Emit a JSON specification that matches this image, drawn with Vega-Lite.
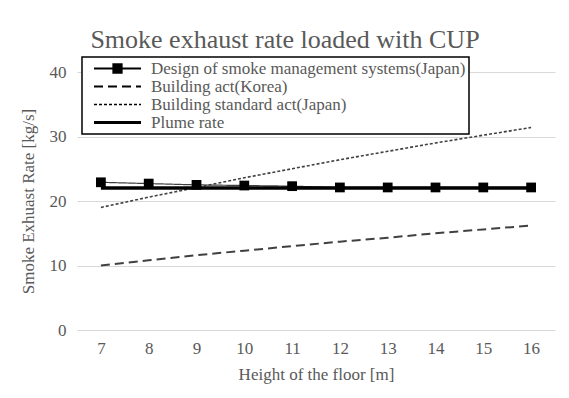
{
  "$schema": "https://vega.github.io/schema/vega-lite/v6.json",
  "width": 478,
  "height": 258,
  "autosize": "none",
  "padding": {"left": 77, "top": 72, "right": 14, "bottom": 68},
  "background": "white",
  "title": {
    "text": "Smoke exhaust rate loaded with CUP",
    "font": "Liberation Serif",
    "fontSize": 26,
    "fontWeight": "normal",
    "color": "#595959",
    "baseline": "alphabetic",
    "offset": -18,
    "dx": -31
  },
  "config": {
    "view": {"stroke": null},
    "font": "Liberation Serif"
  },
  "data": {
    "values": [
      {"h": 7, "series": "Design of smoke management systems(Japan)", "v": 22.9},
      {"h": 8, "series": "Design of smoke management systems(Japan)", "v": 22.7},
      {"h": 9, "series": "Design of smoke management systems(Japan)", "v": 22.5},
      {"h": 10, "series": "Design of smoke management systems(Japan)", "v": 22.4},
      {"h": 11, "series": "Design of smoke management systems(Japan)", "v": 22.3},
      {"h": 12, "series": "Design of smoke management systems(Japan)", "v": 22.1},
      {"h": 13, "series": "Design of smoke management systems(Japan)", "v": 22.1},
      {"h": 14, "series": "Design of smoke management systems(Japan)", "v": 22.1},
      {"h": 15, "series": "Design of smoke management systems(Japan)", "v": 22.1},
      {"h": 16, "series": "Design of smoke management systems(Japan)", "v": 22.1},
      {"h": 7, "series": "Building act(Korea)", "v": 10.0},
      {"h": 8, "series": "Building act(Korea)", "v": 10.8},
      {"h": 9, "series": "Building act(Korea)", "v": 11.6},
      {"h": 10, "series": "Building act(Korea)", "v": 12.3},
      {"h": 11, "series": "Building act(Korea)", "v": 13.0},
      {"h": 12, "series": "Building act(Korea)", "v": 13.7},
      {"h": 13, "series": "Building act(Korea)", "v": 14.3},
      {"h": 14, "series": "Building act(Korea)", "v": 15.0},
      {"h": 15, "series": "Building act(Korea)", "v": 15.6},
      {"h": 16, "series": "Building act(Korea)", "v": 16.2},
      {"h": 7, "series": "Building standard act(Japan)", "v": 19.0},
      {"h": 8, "series": "Building standard act(Japan)", "v": 20.6},
      {"h": 9, "series": "Building standard act(Japan)", "v": 22.1},
      {"h": 10, "series": "Building standard act(Japan)", "v": 23.6},
      {"h": 11, "series": "Building standard act(Japan)", "v": 25.0},
      {"h": 12, "series": "Building standard act(Japan)", "v": 26.4},
      {"h": 13, "series": "Building standard act(Japan)", "v": 27.7},
      {"h": 14, "series": "Building standard act(Japan)", "v": 29.0},
      {"h": 15, "series": "Building standard act(Japan)", "v": 30.2},
      {"h": 16, "series": "Building standard act(Japan)", "v": 31.4},
      {"h": 7, "series": "Plume rate", "v": 22.0},
      {"h": 8, "series": "Plume rate", "v": 22.0},
      {"h": 9, "series": "Plume rate", "v": 22.0},
      {"h": 10, "series": "Plume rate", "v": 22.0},
      {"h": 11, "series": "Plume rate", "v": 22.0},
      {"h": 12, "series": "Plume rate", "v": 22.0},
      {"h": 13, "series": "Plume rate", "v": 22.0},
      {"h": 14, "series": "Plume rate", "v": 22.0},
      {"h": 15, "series": "Plume rate", "v": 22.0},
      {"h": 16, "series": "Plume rate", "v": 22.0}
    ]
  },
  "encoding": {
    "x": {
      "field": "h",
      "type": "ordinal",
      "scale": {"type": "point", "padding": 0.5},
      "axis": {
        "title": "Height of the floor [m]",
        "labelAngle": 0,
        "labelFont": "Liberation Serif",
        "labelFontSize": 17,
        "labelColor": "#595959",
        "labelPadding": 10,
        "titleFont": "Liberation Serif",
        "titleFontSize": 17,
        "titleFontWeight": "normal",
        "titleColor": "#595959",
        "titlePadding": 10,
        "ticks": false,
        "domain": false,
        "grid": false
      }
    },
    "y": {
      "field": "v",
      "type": "quantitative",
      "scale": {"domain": [0, 40], "nice": false},
      "axis": {
        "title": "Smoke Exhuast Rate [kg/s]",
        "values": [0, 10, 20, 30, 40],
        "labelFont": "Liberation Serif",
        "labelFontSize": 17,
        "labelColor": "#595959",
        "labelPadding": 11,
        "titleFont": "Liberation Serif",
        "titleFontSize": 17,
        "titleFontWeight": "normal",
        "titleColor": "#595959",
        "titlePadding": 12,
        "ticks": false,
        "domain": false,
        "grid": true,
        "gridColor": "#d9d9d9",
        "gridWidth": 1.2
      }
    }
  },
  "layer": [
    {
      "mark": {"type": "line", "strokeCap": "butt"},
      "encoding": {
        "strokeDash": {
          "field": "series",
          "type": "nominal",
          "sort": ["Design of smoke management systems(Japan)", "Building act(Korea)", "Building standard act(Japan)", "Plume rate"],
          "scale": {
            "domain": ["Design of smoke management systems(Japan)", "Building act(Korea)", "Building standard act(Japan)", "Plume rate"],
            "range": [[1, 0], [9, 5], [3, 2], [1, 0]]
          },
          "legend": {
            "title": null,
            "orient": "none",
            "legendX": 5,
            "legendY": -15,
            "direction": "vertical",
            "fillColor": "white",
            "strokeColor": "#000000",
            "padding": 3,
            "symbolType": "stroke",
            "symbolSize": 2209,
            "symbolStrokeColor": "#000000",
            "symbolStrokeWidth": 1.5,
            "symbolOffset": 24,
            "labelOffset": 25,
            "labelFont": "Liberation Serif",
            "labelFontSize": 17,
            "labelColor": "#595959",
            "labelLimit": 450,
            "clipHeight": 17,
            "rowPadding": 0,
            "encode": {
              "legend": {
                "update": {"strokeWidth": {"value": 1.5}}
              },
              "symbols": {
                "update": {
                  "size": {"value": 2209},
                  "stroke": {"value": "#000000"},
                  "strokeOpacity": {"value": 1},
                  "shape": {"signal": "datum.value === 'Design of smoke management systems(Japan)' ? 'M-1,0H1M-0.18,-0.18H0.18V0.18H-0.18Z' : 'stroke'"},
                  "fill": {"signal": "datum.value === 'Design of smoke management systems(Japan)' ? '#000000' : 'transparent'"},
                  "strokeWidth": {"signal": "datum.value === 'Plume rate' ? 3 : datum.value === 'Building act(Korea)' ? 1.8 : datum.value === 'Building standard act(Japan)' ? 1.3 : 1.8"}
                }
              }
            }
          }
        },
        "strokeWidth": {
          "condition": [
            {"test": "datum.series === 'Plume rate'", "value": 3.5},
            {"test": "datum.series === 'Building act(Korea)'", "value": 2},
            {"test": "datum.series === 'Building standard act(Japan)'", "value": 1.6}
          ],
          "value": 1.2
        },
        "color": {
          "condition": [
            {"test": "datum.series === 'Plume rate'", "value": "#000000"},
            {"test": "datum.series === 'Design of smoke management systems(Japan)'", "value": "#404040"}
          ],
          "value": "#404040"
        },
        "order": {"field": "h", "type": "quantitative"}
      }
    },
    {
      "transform": [{"filter": "datum.series === 'Design of smoke management systems(Japan)'"}],
      "mark": {"type": "point", "shape": "square", "filled": true, "size": 95, "color": "#000000", "opacity": 1},
      "encoding": {}
    }
  ]
}
